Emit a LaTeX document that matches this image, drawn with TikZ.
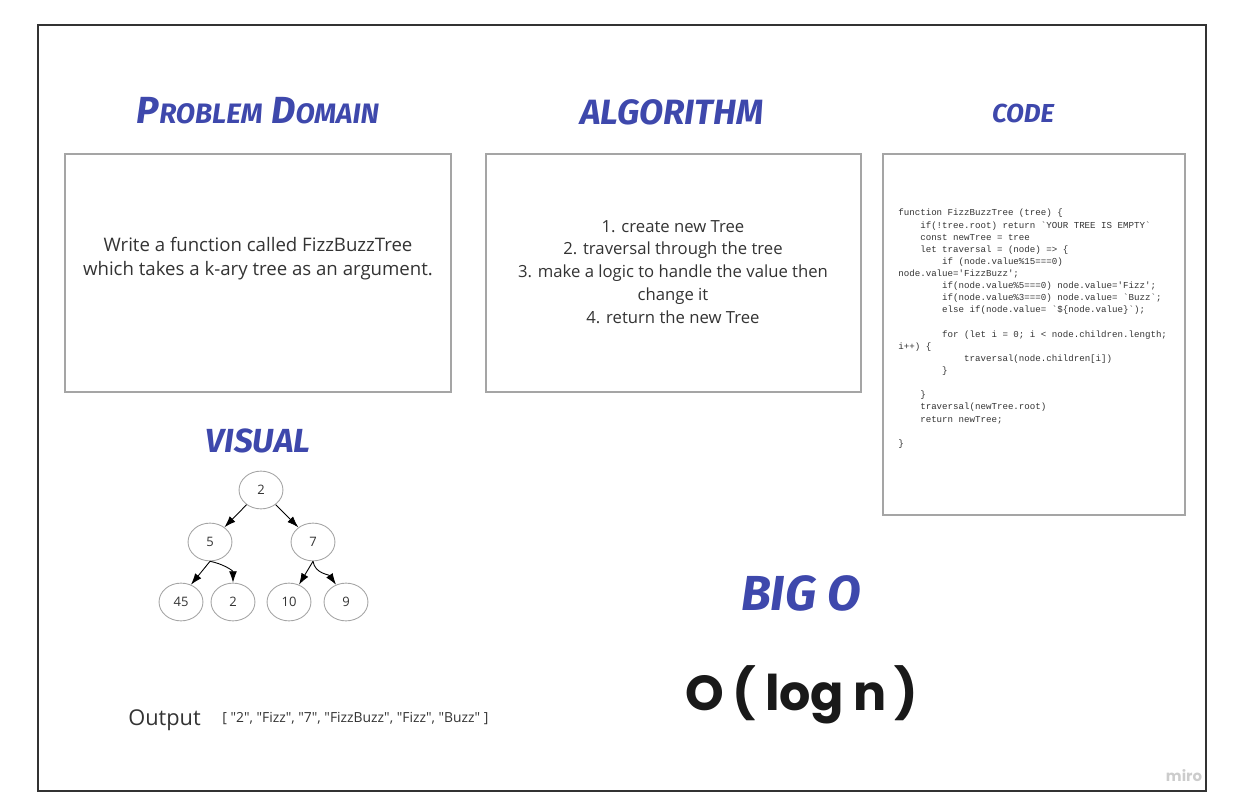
\documentclass[tikz,border=0pt]{standalone}
\usepackage{fontspec}
\setmainfont{Open Sans}[Ligatures=TeXOff]
\setmonofont{Liberation Mono}
\newfontfamily\headfont{Fira Sans}
\newfontfamily\bigfont{Poppins}
\usetikzlibrary{arrows.meta,positioning,shapes.geometric}
\definecolor{HeadBlue}{RGB}{62,72,172}
\definecolor{FrameGray}{RGB}{51,51,51}
\definecolor{BoxGray}{RGB}{165,165,165}
\definecolor{TextGray}{RGB}{51,51,51}

\begin{document}
\begin{tikzpicture}[x=0.02cm,y=-0.02cm,>={Latex[length=6.5pt,width=4.5pt]},
  heading/.style={font=\headfont\bfseries\itshape, text=HeadBlue, anchor=base, inner sep=0pt},
  panel/.style={draw=BoxGray, line width=0.6pt},
  vnode/.style={ellipse, draw=BoxGray, line width=0.5pt, minimum width=25pt, minimum height=21.5pt,
    inner sep=0pt, text=TextGray, font=\fontsize{7.4}{9}\selectfont},
  link/.style={->, line width=0.5pt}]
  \useasboundingbox (0,0) rectangle (1233,810);
  \draw[FrameGray, line width=1pt] (38,25) rectangle (1206,791);
  \draw[panel] (65,154) rectangle (451,392);
  \draw[panel] (486,154) rectangle (861,392);
  \draw[panel] (883,154) rectangle (1185,515);

  \node[heading, font=\headfont\bfseries\itshape\fontsize{21.5}{24}\selectfont] (hpd) at (258,124)
    {P{\fontsize{16}{18}\selectfont ROBLEM} D{\fontsize{16}{18}\selectfont OMAIN}};
  \node[heading, font=\headfont\bfseries\itshape\fontsize{20}{24}\selectfont] (halg) at (672,125) {ALGORITHM};
  \node[heading, font=\headfont\bfseries\itshape\fontsize{14.8}{17}\selectfont] (hcode) at (1023,123) {CODE};
  \node[heading, font=\headfont\bfseries\itshape\fontsize{19}{22}\selectfont] (hvis) at (258,453) {VISUAL};
  \node[heading, font=\headfont\bfseries\itshape\fontsize{28}{32}\selectfont] (hbig) at (801,610) {BIG O};

  \node[align=center, text=TextGray, font=\fontsize{10.6}{13.6}\selectfont] (pd) at (258,259)
    {Write a function called FizzBuzzTree\\which takes a k-ary tree as an argument.};
  \node[align=center, text=TextGray, font=\fontsize{9.5}{13}\selectfont] (alg) at (673,272)
    {1. create new Tree\\2. traversal through the tree\\3. make a logic to handle the value then\\change it\\4. return the new Tree};

  \node[anchor=north west, inner sep=0pt, align=left, text=TextGray, font=\ttfamily\fontsize{5.2}{6.9}\selectfont] (code) at (898,209)
    {function FizzBuzzTree (tree) \{\\
~~~~if(!tree.root) return `YOUR TREE IS EMPTY`\\
~~~~const newTree = tree\\
~~~~let traversal = (node) => \{\\
~~~~~~~~if (node.value\%15===0)\\
node.value='FizzBuzz';\\
~~~~~~~~if(node.value\%5===0) node.value='Fizz';\\
~~~~~~~~if(node.value\%3===0) node.value= `Buzz`;\\
~~~~~~~~else if(node.value= `\$\{node.value\}`);\\
~\\
~~~~~~~~for (let i = 0; i < node.children.length;\\
i++) \{\\
~~~~~~~~~~~~traversal(node.children[i])\\
~~~~~~~~\}\\
~\\
~~~~\}\\
~~~~traversal(newTree.root)\\
~~~~return newTree;\\
~\\
\}};

  \node[vnode] (r) at (261,490) {2};
  \node[vnode] (n5) at (210,542) {5};
  \node[vnode] (n7) at (313,542) {7};
  \node[vnode] (n45) at (181,602) {45};
  \node[vnode] (n2) at (233,602) {2};
  \node[vnode] (n10) at (289,602) {10};
  \node[vnode] (n9) at (346,602) {9};
  \draw[link] (r) -- (n5);
  \draw[link] (r) -- (n7);
  \draw[link] (n5.south) -- (n45.60);
  \draw[link] (n5.south) to[out=-10,in=90] (n2.north);
  \draw[link] (n7.south) -- (n10.60);
  \draw[link] (n7.south) to[out=-80,in=125] (n9.120);

  \node[anchor=base west, inner sep=0pt, text=TextGray, font=\fontsize{12.4}{14}\selectfont] (out) at (128,725) {Output};
  \node[anchor=base west, inner sep=0pt, text=TextGray, font=\fontsize{7.9}{9}\selectfont] (arr) at (222,722)
    {[ "2", "Fizz", "7", "FizzBuzz", "Fizz", "Buzz" ]};

  \node[anchor=base, inner sep=0pt, text=black!90, font=\bigfont\bfseries\fontsize{28}{34}\selectfont] (bigo) at (802,710)
    {O\hspace{-1pt} (\hspace{-1pt} log\hspace{-1pt} n\hspace{-1pt} )};
  \node[inner sep=0pt, text=black!20, font=\bigfont\bfseries\fontsize{8.5}{10}\selectfont] (miro) at (1184,776) {miro};
\end{tikzpicture}
\end{document}
